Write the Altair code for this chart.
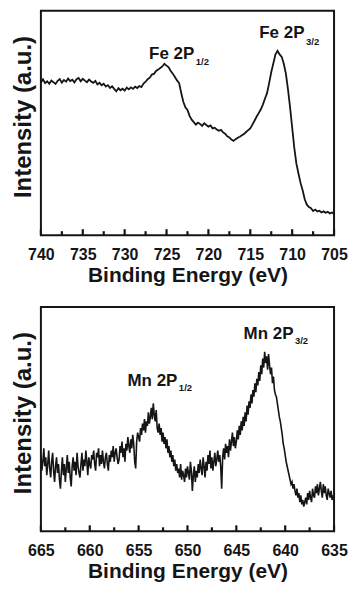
import altair as alt
import pandas as pd

# ---- Fe 2p spectrum (740 -> 705 eV, 0.25 eV step) ----
fe_start, fe_step = 740.0, -0.25
fe_values = [
    68.0, 69.5, 67.8, 68.6, 67.5, 68.9, 68.2, 67.4, 68.8, 69.6,
    68.0, 69.2, 68.4, 69.8, 68.7, 69.3, 68.1, 69.5, 70.1, 68.6,
    69.7, 68.9, 68.2, 69.4, 68.5, 67.9, 68.8, 67.2, 67.9, 66.8,
    67.5, 66.3, 66.9, 65.6, 66.4, 65.2, 64.1, 65.5, 64.6, 65.3,
    64.4, 65.8, 65.0, 65.9, 65.2, 66.2, 65.6, 66.5, 66.0, 67.6,
    68.4, 69.5, 70.2, 71.6, 71.9, 73.2, 73.8, 74.5, 75.2, 76.4,
    75.6, 74.8, 73.2, 72.0, 70.5, 69.0, 67.8, 63.5, 59.5, 57.0,
    55.8, 53.2, 51.5, 50.4, 49.3, 50.2, 49.6, 48.7, 49.9, 49.1,
    48.4, 48.9, 47.6, 47.9, 47.1, 46.5, 46.9, 45.8, 45.2, 44.1,
    43.6, 42.6, 42.0, 42.8, 43.4, 43.9, 44.5, 45.1, 46.0, 46.8,
    47.6, 49.3, 51.0, 52.8, 54.4, 56.0, 58.2, 60.8, 63.3, 67.8,
    72.6, 76.5, 80.5, 82.2, 80.6, 79.5, 76.4, 72.0, 65.0, 57.0,
    48.0, 39.0, 32.0, 27.5, 23.3, 20.0, 16.0, 13.6, 12.5, 12.0,
    10.8, 11.4, 10.6, 10.9, 10.1, 10.6, 10.0, 10.4, 9.7, 10.1, 9.6,
]

# ---- Mn 2p spectrum (665 -> 635 eV, 0.1 eV step) ----
mn_start, mn_step = 665.0, -0.1
mn_values = [
    34, 27, 31, 37, 29, 33, 25, 30, 36, 28, 24, 31, 35, 27, 22, 29, 33, 26, 30, 23, 19,
    27, 33, 25, 30, 22, 28, 34, 26, 31, 24, 20, 29, 33, 27, 31, 25, 35, 29, 26, 24,
    30, 35, 27, 32, 29, 36, 31, 25, 33, 30, 28, 34, 32, 36, 30, 27, 35, 33, 37, 29,
    34, 30, 36, 31, 28, 33, 35, 30, 27, 34, 31, 36, 33, 38, 31, 35, 37, 33, 30, 32,
    38, 35, 40, 33, 37, 31, 39, 36, 42, 38, 35, 41, 37, 43, 39, 31, 28, 40, 44, 42,
    40, 46, 43, 48, 45, 50, 44, 49, 47, 53, 48, 51, 55, 50, 57, 52, 49, 54, 46, 44,
    48, 43, 46, 40, 44, 39, 42, 37, 41, 35, 38, 33, 36, 31, 34, 29, 32, 27, 30, 26,
    28, 24, 30, 23, 27, 25, 22, 28, 24, 29, 26, 23, 31, 27, 18, 25, 29, 22, 27, 24,
    30, 26, 32, 28, 25, 33, 29, 24, 31, 27, 34, 30, 36, 28, 33, 27, 31, 35, 29, 32,
    36, 31, 34, 29, 19, 33, 37, 32, 39, 35, 38, 33, 41, 36, 40, 44, 38, 42, 37, 40,
    45, 41, 47, 43, 49, 45, 51, 47, 53, 49, 56, 52, 58, 55, 61, 57, 63, 60, 66, 62,
    68, 65, 71, 67, 74, 70, 77, 73, 80, 75, 78, 72, 79, 74, 70, 73, 66, 69, 63, 61,
    60, 57, 54, 51, 49, 46, 43, 39, 37, 34, 31, 29, 27, 25, 23, 21, 22, 19, 21, 18,
    16, 19, 15, 17, 13, 16, 12, 14, 11, 13, 15, 12, 17, 14, 18, 15, 13, 19, 16, 15,
    20, 17, 21, 16, 19, 22, 18, 15, 21, 17, 20, 16, 14, 19, 17, 15, 18, 14, 16, 13,
]

fe_major = [740, 735, 730, 725, 720, 715, 710, 705]
fe_minor = [737.5, 732.5, 727.5, 722.5, 717.5, 712.5, 707.5]
mn_major = [665, 660, 655, 650, 645, 640, 635]
mn_minor = [662.5, 657.5, 652.5, 647.5, 642.5, 637.5]

# annotation labels: (text, energy, intensity)
fe_main = [("Fe 2P", 727.08, 78.7), ("Fe 2P", 713.93, 88.0)]
fe_sub = [("1/2", 721.5, 76.0), ("3/2", 708.35, 84.9)]
mn_main = [("Mn 2P", 656.14, 64.9), ("Mn 2P", 644.26, 85.8)]
mn_sub = [("1/2", 650.88, 62.7), ("3/2", 639.0, 83.6)]

FONT = "Liberation Sans"
INK = "#151515"
W, H = 294, 225
MAJOR_PX, MINOR_PX = 6, 4


def build_panel(start, step, values, xmin, xmax, major, minor, mains, subs, lw):
    df = pd.DataFrame({"E": [round(start + step * i, 3) for i in range(len(values))],
                       "I": values})
    major_df = pd.DataFrame({"E": major})
    minor_df = pd.DataFrame({"E": minor})
    main_df = pd.DataFrame(mains, columns=["t", "E", "I"])
    sub_df = pd.DataFrame(subs, columns=["t", "E", "I"])

    xs = alt.Scale(domain=[xmin, xmax], reverse=True, nice=False, zero=False)
    ys = alt.Scale(domain=[0, 100], nice=False, zero=False)
    xa = alt.Axis(values=major, format="d", title="Binding Energy (eV)",
                  ticks=False, domain=False, grid=False,
                  labelFlush=False, labelOverlap=False,
                  labelPadding=11, titlePadding=2)
    ya = alt.Axis(labels=False, ticks=False, domain=False, grid=False,
                  title="Intensity (a.u.)", titlePadding=5, titleY=106,
                  titleFontSize=24)

    line = alt.Chart(df).mark_line(color=INK, strokeWidth=lw).encode(
        x=alt.X("E:Q", scale=xs, axis=xa), y=alt.Y("I:Q", scale=ys, axis=ya))
    t_main = alt.Chart(main_df).mark_text(
        align="left", baseline="alphabetic", font=FONT, fontSize=17,
        fontWeight="bold", color=INK).encode(
        x=alt.X("E:Q", scale=xs), y=alt.Y("I:Q", scale=ys), text="t:N")
    t_sub = alt.Chart(sub_df).mark_text(
        align="left", baseline="alphabetic", font=FONT, fontSize=9.5,
        fontWeight="bold", color=INK).encode(
        x=alt.X("E:Q", scale=xs), y=alt.Y("I:Q", scale=ys), text="t:N")
    tk_major = alt.Chart(major_df).mark_rule(color=INK, strokeWidth=2.2).encode(
        x=alt.X("E:Q", scale=xs), y=alt.value(H), y2=alt.value(H - MAJOR_PX))
    tk_minor = alt.Chart(minor_df).mark_rule(color=INK, strokeWidth=2.2).encode(
        x=alt.X("E:Q", scale=xs), y=alt.value(H), y2=alt.value(H - MINOR_PX))
    return alt.layer(line, t_main, t_sub, tk_major, tk_minor).properties(
        width=W, height=H)


top = build_panel(fe_start, fe_step, fe_values, 705, 740, fe_major, fe_minor,
                  fe_main, fe_sub, 1.8)
bottom = build_panel(mn_start, mn_step, mn_values, 635, 665, mn_major, mn_minor,
                     mn_main, mn_sub, 1.6)

chart = alt.vconcat(top, bottom, spacing=72, bounds="flush").properties(
    padding={"left": 3, "top": 1, "right": 0, "bottom": 0},
    background="white",
).configure_view(
    stroke=INK, strokeWidth=2
).configure_axis(
    labelFont=FONT, labelFontSize=16, labelFontWeight="bold", labelColor=INK,
    titleFont=FONT, titleFontSize=21, titleFontWeight="bold", titleColor=INK,
)

chart.save("out.html", embed_options={"renderer": "svg", "actions": False})
